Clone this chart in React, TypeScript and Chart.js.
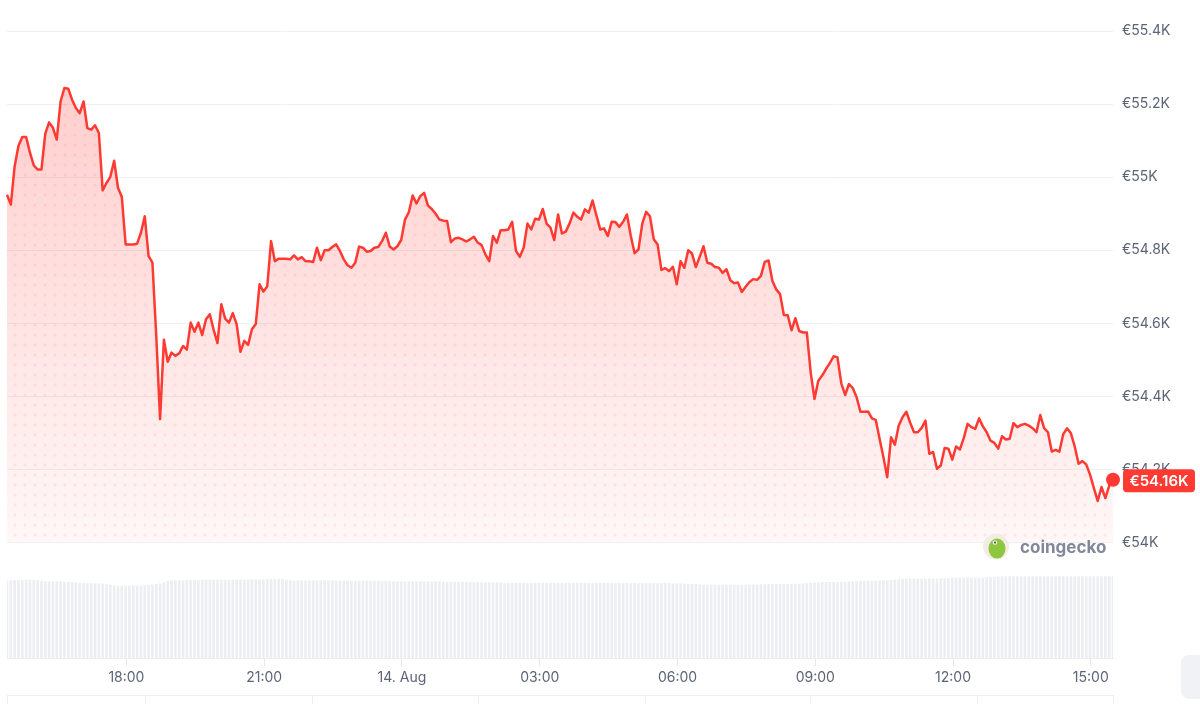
import React, { useEffect, useRef } from "react";
import { Chart, registerables } from "chart.js";

Chart.register(...registerables);

// Time grid: minutes since 13 Aug 00:00, one sample every 5 minutes
const START_MINUTE = 924; // 13 Aug 15:24
const STEP_MINUTES = 5;

// BTC price in EUR
const prices: number[] = [
  54952, 54925, 55030, 55086, 55110, 55110, 55067, 55032, 55021, 55021,
  55119, 55150, 55135, 55103, 55207, 55244, 55242, 55212, 55189, 55175,
  55207, 55134, 55130, 55142, 55121, 54964, 54984, 55001, 55045, 54971,
  54946, 54816, 54816, 54816, 54818, 54848, 54893, 54784, 54766, 54566,
  54338, 54555, 54495, 54520, 54511, 54518, 54538, 54528, 54602, 54577,
  54602, 54568, 54611, 54625, 54582, 54546, 54652, 54613, 54602, 54628,
  54598, 54522, 54552, 54541, 54584, 54598, 54707, 54687, 54701, 54825,
  54770, 54777, 54777, 54777, 54775, 54786, 54775, 54781, 54770, 54770,
  54768, 54807, 54773, 54800, 54800, 54809, 54816, 54798, 54775, 54759,
  54752, 54766, 54810, 54807, 54796, 54798, 54807, 54809, 54825, 54848,
  54810, 54802, 54811, 54828, 54884, 54904, 54950, 54928, 54948, 54957,
  54922, 54913, 54900, 54884, 54881, 54880, 54822, 54832, 54834, 54830,
  54824, 54830, 54837, 54821, 54814, 54789, 54770, 54839, 54821, 54855,
  54855, 54857, 54878, 54798, 54782, 54807, 54873, 54857, 54886, 54884,
  54913, 54873, 54862, 54828, 54898, 54846, 54851, 54873, 54903, 54892,
  54884, 54912, 54903, 54936, 54896, 54857, 54860, 54839, 54878, 54877,
  54864, 54878, 54898, 54839, 54792, 54802, 54873, 54905, 54893, 54830,
  54816, 54746, 54751, 54743, 54755, 54707, 54770, 54752, 54800, 54791,
  54754, 54782, 54811, 54766, 54763, 54754, 54752, 54738, 54748, 54718,
  54710, 54712, 54686, 54700, 54713, 54721, 54719, 54730, 54768, 54772,
  54716, 54693, 54680, 54623, 54622, 54581, 54614, 54579, 54575, 54575,
  54466, 54393, 54443, 54457, 54475, 54491, 54510, 54507, 54436, 54404,
  54434, 54423, 54398, 54358, 54358, 54359, 54340, 54336, 54284, 54234,
  54179, 54288, 54268, 54320, 54343, 54358, 54328, 54302, 54302, 54314,
  54334, 54243, 54248, 54202, 54211, 54259, 54257, 54227, 54263, 54255,
  54286, 54325, 54316, 54311, 54340, 54318, 54302, 54279, 54273, 54257,
  54291, 54282, 54284, 54327, 54316, 54322, 54325, 54320, 54313, 54302,
  54349, 54313, 54302, 54249, 54254, 54249, 54297, 54313, 54299, 54263,
  54216, 54223, 54214, 54186, 54149, 54114, 54152, 54122, 54155, 54172,
];

// 24h volume (billion EUR)
const volumes: number[] = [
  28.1, 28.1, 28.2, 28.2, 28.4, 28.4, 28.4, 28.3, 28.2, 27.9,
  27.8, 27.7, 27.7, 27.7, 27.7, 27.6, 27.6, 27.5, 27.4, 27.3,
  27.2, 27.1, 27.1, 27.0, 27.0, 26.9, 26.7, 26.5, 26.3, 26.2,
  26.2, 26.2, 26.2, 26.2, 26.2, 26.2, 26.3, 26.4, 26.6, 26.8,
  27.0, 27.4, 27.8, 28.0, 28.1, 28.1, 28.1, 28.2, 28.2, 28.3,
  28.3, 28.4, 28.4, 28.4, 28.4, 28.4, 28.4, 28.4, 28.4, 28.4,
  28.4, 28.4, 28.4, 28.4, 28.5, 28.5, 28.5, 28.5, 28.6, 28.6,
  28.6, 28.6, 28.5, 28.3, 28.2, 28.1, 28.1, 28.1, 28.1, 28.1,
  28.1, 28.1, 28.1, 28.1, 28.1, 28.1, 28.1, 28.1, 28.0, 28.0,
  28.0, 28.0, 28.0, 28.0, 28.0, 28.0, 28.0, 27.9, 27.9, 27.9,
  27.9, 27.8, 27.8, 27.8, 27.7, 27.7, 27.7, 27.7, 27.7, 27.7,
  27.7, 27.7, 27.7, 27.7, 27.6, 27.6, 27.6, 27.6, 27.6, 27.6,
  27.5, 27.5, 27.5, 27.5, 27.4, 27.4, 27.4, 27.3, 27.3, 27.3,
  27.2, 27.2, 27.2, 27.2, 27.2, 27.2, 27.2, 27.2, 27.2, 27.2,
  27.2, 27.2, 27.2, 27.2, 27.2, 27.2, 27.2, 27.2, 27.2, 27.2,
  27.2, 27.2, 27.2, 27.2, 27.2, 27.2, 27.2, 27.2, 27.2, 27.1,
  27.1, 27.1, 27.1, 27.1, 27.1, 27.1, 27.1, 27.1, 27.1, 27.1,
  27.1, 27.1, 27.1, 27.1, 27.0, 27.0, 27.0, 26.9, 26.9, 26.8,
  26.7, 26.6, 26.5, 26.5, 26.5, 26.5, 26.5, 26.5, 26.5, 26.5,
  26.5, 26.5, 26.5, 26.5, 26.5, 26.6, 26.6, 26.7, 26.7, 26.8,
  26.8, 26.8, 26.8, 26.8, 26.8, 26.8, 26.9, 26.9, 27.0, 27.1,
  27.2, 27.3, 27.4, 27.5, 27.5, 27.5, 27.5, 27.5, 27.6, 27.6,
  27.7, 27.7, 27.8, 27.9, 28.0, 28.0, 28.0, 28.0, 28.1, 28.1,
  28.2, 28.3, 28.4, 28.5, 28.6, 28.7, 28.7, 28.7, 28.7, 28.7,
  28.7, 28.7, 28.8, 28.8, 28.9, 28.9, 29.0, 29.0, 29.1, 29.1,
  29.1, 29.1, 29.1, 29.1, 29.1, 29.1, 29.2, 29.3, 29.4, 29.5,
  29.6, 29.6, 29.6, 29.6, 29.6, 29.6, 29.6, 29.6, 29.6, 29.6,
  29.6, 29.6, 29.6, 29.6, 29.6, 29.6, 29.6, 29.6, 29.6, 29.6,
  29.6, 29.6, 29.6, 29.6, 29.6, 29.6, 29.6, 29.6, 29.6, 29.6,
];

const priceTicks: number[] = [54000, 54200, 54400, 54600, 54800, 55000, 55200, 55400];
const timeTicks: number[] = [1080, 1260, 1440, 1620, 1800, 1980, 2160, 2340];
const dayLabel = "14. Aug";
const currentPriceLabel = "€54.16K";
const brandLabel = "coingecko";
const tableDividers: number[] = [7, 145, 312, 478, 645, 810, 977, 1113];

const RED = "#ff3a33";
const TEXT = "#5b6477";
const FONT = "Inter, 'Noto Sans', sans-serif";

const times = prices.map((_, i) => START_MINUTE + i * STEP_MINUTES);
const X_MIN = times[0];
const X_MAX = times[times.length - 1];

function timeLabel(v: number): string {
  const m = ((v % 1440) + 1440) % 1440;
  if (m === 0) return dayLabel;
  const h = Math.floor(m / 60);
  const mm = m % 60;
  return String(h).padStart(2, "0") + ":" + String(mm).padStart(2, "0");
}

export default function App() {
  const priceRef = useRef<HTMLCanvasElement | null>(null);
  const volRef = useRef<HTMLCanvasElement | null>(null);

  useEffect(() => {
    const pc = priceRef.current!;
    const vc = volRef.current!;
    const last = prices.length - 1;
    const pricePoints = prices.map((p, i) => ({ x: times[i], y: p }));
    const volPoints = volumes.map((v, i) => ({ x: times[i], y: v }));

    // dot pattern for the fill
    const tile = document.createElement("canvas");
    tile.width = 10;
    tile.height = 10;
    const tctx = tile.getContext("2d")!;
    tctx.fillStyle = "rgba(255,58,51,0.09)";
    tctx.beginPath();
    tctx.arc(5, 5, 1.5, 0, Math.PI * 2);
    tctx.fill();
    const pattern = pc.getContext("2d")!.createPattern(tile, "repeat");

    const overlay = {
      id: "overlay",
      afterDraw(chart: any) {
        const { ctx, chartArea, scales } = chart;
        const y = scales.y.getPixelForValue(prices[last]);
        // price badge
        const bx = chartArea.right + 10;
        const bw = 72;
        const bh = 23;
        ctx.save();
        ctx.fillStyle = RED;
        ctx.beginPath();
        (ctx as any).roundRect(bx, y - bh / 2 + 1, bw, bh, 4);
        ctx.fill();
        ctx.fillStyle = "#ffffff";
        ctx.font = "600 15px " + FONT;
        ctx.textAlign = "center";
        ctx.textBaseline = "middle";
        ctx.fillText(currentPriceLabel, bx + bw / 2, y + 2);
        // watermark
        const cx = chartArea.right - 117;
        const cy = chartArea.bottom + 4;
        ctx.fillStyle = "#f3ece4";
        ctx.beginPath();
        ctx.arc(cx, cy, 13, 0, Math.PI * 2);
        ctx.fill();
        ctx.fillStyle = "#8dc63f";
        ctx.beginPath();
        ctx.ellipse(cx + 1, cy + 2, 8.5, 10, 0, 0, Math.PI * 2);
        ctx.fill();
        ctx.fillStyle = "#ffffff";
        ctx.beginPath();
        ctx.arc(cx - 1, cy - 4, 2.2, 0, Math.PI * 2);
        ctx.fill();
        ctx.fillStyle = "#4a4a4a";
        ctx.beginPath();
        ctx.arc(cx - 1, cy - 4, 1.1, 0, Math.PI * 2);
        ctx.fill();
        ctx.fillStyle = "#80889a";
        ctx.font = "700 17px " + FONT;
        ctx.textAlign = "left";
        ctx.textBaseline = "middle";
        ctx.fillText(brandLabel, chartArea.right - 93, cy + 1);
        ctx.restore();
      },
    };

    const priceChart = new Chart(pc, {
      type: "line",
      data: {
        datasets: [
          {
            data: pricePoints,
            borderColor: "rgba(0,0,0,0)",
            borderWidth: 0,
            pointRadius: 0,
            fill: "start",
            backgroundColor: pattern as any,
          },
          {
            data: pricePoints,
            borderColor: RED,
            borderWidth: 2.5,
            tension: 0,
            borderJoinStyle: "round",
            pointRadius: (c: any) => (c.dataIndex === last ? 7 : 0),
            pointBackgroundColor: RED,
            pointBorderWidth: 0,
            fill: "start",
            clip: false as any,
            backgroundColor: (c: any) => {
              const { chart } = c;
              const area = chart.chartArea;
              if (!area) return "rgba(255,58,51,0.15)";
              const g = chart.ctx.createLinearGradient(0, area.top, 0, area.bottom);
              g.addColorStop(0, "rgba(255,58,51,0.27)");
              g.addColorStop(1, "rgba(255,58,51,0.04)");
              return g;
            },
          },
        ],
      },
      options: {
        responsive: false,
        animation: false,
        events: [],
        layout: { padding: { left: 7, top: 31, bottom: 14, right: 0 } },
        plugins: {
          legend: { display: false },
          tooltip: { enabled: false },
          filler: { drawTime: "beforeDatasetsDraw" } as any,
        },
        scales: {
          x: { type: "linear", display: false, min: X_MIN, max: X_MAX },
          y: {
            position: "right",
            min: 54000,
            max: 55400,
            afterBuildTicks: (s: any) => {
              s.ticks = priceTicks.map((v) => ({ value: v }));
            },
            afterFit: (s: any) => {
              s.width = 87;
            },
            grid: { color: "#eff0f3", drawTicks: false, lineWidth: 1 },
            border: { display: false },
            ticks: {
              padding: 9,
              color: TEXT,
              font: { family: FONT, size: 14 },
              callback: (v: any) => "€" + Number(v) / 1000 + "K",
            },
          },
        },
      },
      plugins: [overlay],
    });

    const volChart = new Chart(vc, {
      type: "bar",
      data: {
        datasets: [
          {
            data: volPoints,
            backgroundColor: "#eceef2",
            borderWidth: 0,
            barThickness: 2,
          },
        ],
      },
      options: {
        responsive: false,
        animation: false,
        events: [],
        layout: { padding: { left: 7, right: 87, top: 10, bottom: 0 } },
        plugins: { legend: { display: false }, tooltip: { enabled: false } },
        scales: {
          x: {
            type: "linear",
            min: X_MIN,
            max: X_MAX,
            offset: false,
            afterBuildTicks: (s: any) => {
              s.ticks = timeTicks.map((v) => ({ value: v }));
            },
            afterFit: (s: any) => {
              s.height = 46;
            },
            grid: {
              drawOnChartArea: false,
              drawTicks: true,
              tickLength: 8,
              color: "#e6e8ed",
              offset: false,
            },
            border: { display: true, color: "#eceef2" },
            ticks: {
              color: TEXT,
              font: { family: FONT, size: 14 },
              padding: 3,
              maxRotation: 0,
              autoSkip: false,
              callback: (v: any) => timeLabel(Number(v)),
            },
          },
          y: { display: false, min: 0, max: 32 },
        },
      },
    });

    return () => {
      priceChart.destroy();
      volChart.destroy();
    };
  }, []);

  return (
    <div
      style={{
        position: "fixed",
        left: 0,
        top: 0,
        width: 1200,
        height: 704,
        background: "#ffffff",
        overflow: "hidden",
      }}
    >
      <canvas
        ref={priceRef}
        width={1200}
        height={560}
        style={{ position: "absolute", left: 0, top: 0, display: "block" }}
      />
      <canvas
        ref={volRef}
        width={1200}
        height={144}
        style={{ position: "absolute", left: 0, top: 560, display: "block" }}
      />
      <div
        style={{
          position: "absolute",
          left: 7,
          top: 695,
          width: 1106,
          height: 0,
          borderTop: "1px solid #eceef2",
        }}
      />
      {tableDividers.map((x) => (
        <div
          key={x}
          style={{
            position: "absolute",
            left: x,
            top: 695,
            width: 0,
            height: 12,
            borderLeft: "1px solid #eceef2",
          }}
        />
      ))}
      <div
        style={{
          position: "absolute",
          left: 1181,
          top: 655,
          width: 40,
          height: 44,
          borderRadius: 8,
          background: "#f0f2f5",
        }}
      />
    </div>
  );
}
